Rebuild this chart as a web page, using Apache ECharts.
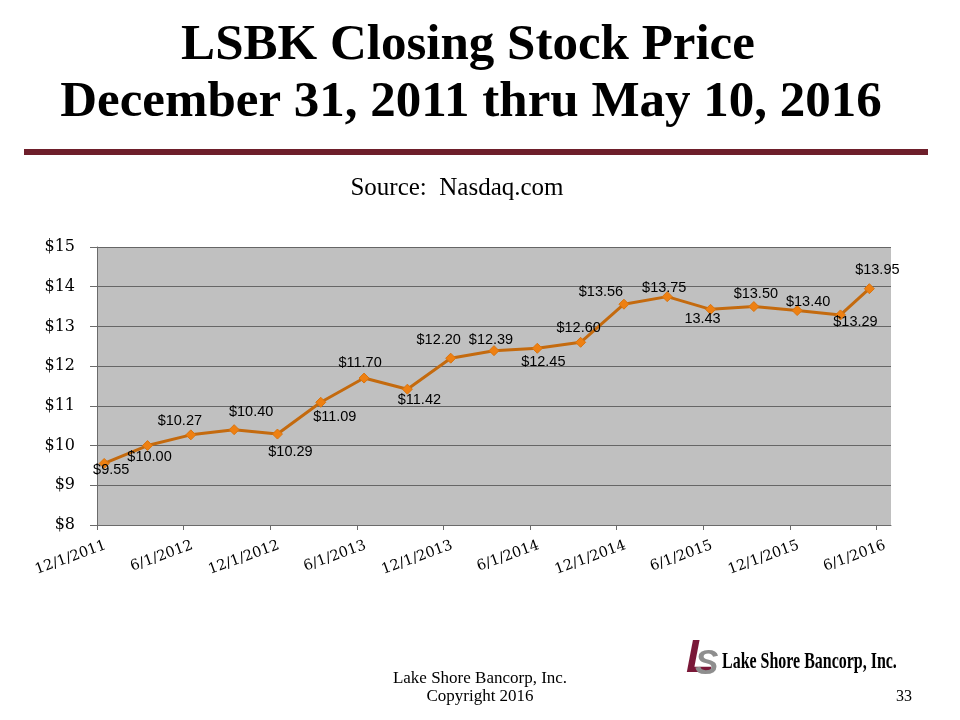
<!DOCTYPE html>
<html>
<head>
<meta charset="utf-8">
<script src="https://cdn.jsdelivr.net/npm/echarts@6/dist/echarts.min.js"></script>
<style>
html,body{margin:0;padding:0;background:#fff;}
#chart{width:960px;height:720px;}
</style>
</head>
<body>
<div id="chart"></div>
<script>
// Month index counted from Dec 2011 (0) on an Excel-style monthly date axis
var months = ['Dec 2011','Mar 2012','Jun 2012','Sep 2012','Dec 2012','Mar 2013','Jun 2013','Sep 2013',
  'Dec 2013','Mar 2014','Jun 2014','Sep 2014','Dec 2014','Mar 2015','Jun 2015','Sep 2015','Dec 2015','Mar 2016','May 2016'];
var monthIndex = [0,3,6,9,12,15,18,21,24,27,30,33,36,39,42,45,48,51,53];
var prices = [9.55,10.00,10.27,10.40,10.29,11.09,11.70,11.42,12.20,12.39,12.45,12.60,13.56,13.75,13.43,13.50,13.40,13.29,13.95];
var priceLabels = ['$9.55','$10.00','$10.27','$10.40','$10.29','$11.09','$11.70','$11.42','$12.20','$12.39','$12.45','$12.60','$13.56','$13.75','13.43','$13.50','$13.40','$13.29','$13.95'];
var tickLabels = ['12/1/2011','6/1/2012','12/1/2012','6/1/2013','12/1/2013','6/1/2014','12/1/2014','6/1/2015','12/1/2015','6/1/2016'];
var tickMonths = [0,6,12,18,24,30,36,42,48,54];
var yTicks = [8,9,10,11,12,13,14,15];

// label placement (style only)
var labelOffsets = [[7,7],[2,11],[-11,-14],[17,-18],[13,18],[14,15],[-4,-15],[12,11],[-12,-18],[-3,-11],
  [6,14],[-2,-14],[-23,-12],[-3,-9],[-8,10],[2,-13],[11,-9],[15,7],[8,-19]];

var labelShift = 0.6;
var seriesData = prices.map(function(p, i){
  return {
    value: [monthIndex[i] + 0.5, p],
    label: {offset: labelOffsets[i], formatter: priceLabels[i]}
  };
});

var chart = echarts.init(document.getElementById('chart'), null, {renderer:'canvas'});
var serif = '"DejaVu Serif", "Liberation Serif", serif';
chart.setOption({
  animation: false,
  backgroundColor: '#ffffff',
  grid: {left: 97, right: 69, top: 247, bottom: 195, show: true, backgroundColor: '#C0C0C0', borderWidth: 0},
  xAxis: {
    type: 'value', min: 0, max: 55,
    splitLine: {show: false},
    axisLine: {show: true, lineStyle: {color: '#6b6b6b', width: 1}},
    axisTick: {show: true, length: 5, lineStyle: {color: '#6b6b6b'}, customValues: tickMonths},
    axisLabel: {
      customValues: tickMonths.map(function(m){ return m + labelShift; }),
      formatter: function(v){ return tickLabels[Math.round((v - labelShift) / 6)]; },
      rotate: 20, margin: 20, color: '#000', fontFamily: serif, fontSize: 14.5
    }
  },
  yAxis: {
    type: 'value', min: yTicks[0], max: yTicks[yTicks.length-1], interval: 1,
    axisLine: {show: true, lineStyle: {color: '#6b6b6b', width: 1}},
    axisTick: {show: true, length: 7, lineStyle: {color: '#6b6b6b'}},
    splitLine: {show: true, lineStyle: {color: '#666666', width: 1}},
    axisLabel: {formatter: function(v){ return '$' + v; }, margin: 22, color: '#000', fontFamily: serif, fontSize: 16}
  },
  series: [{
    type: 'line',
    data: seriesData,
    symbol: 'diamond', symbolSize: 10,
    lineStyle: {color: '#C46A0E', width: 3},
    itemStyle: {color: '#EE8012', borderColor: '#D9740F', borderWidth: 1},
    label: {show: true, position: 'inside', color: '#000', fontFamily: '"Liberation Sans", Arial, sans-serif', fontSize: 14.5}
  }],
  graphic: [
    {type: 'text', x: 468, y: 46, style: {text: 'LSBK Closing Stock Price', font: 'bold 51px "Liberation Serif", serif', fill: '#000', textAlign: 'center', textVerticalAlign: 'middle'}},
    {type: 'text', x: 471, y: 103, style: {text: 'December 31, 2011 thru May 10, 2016', font: 'bold 51px "Liberation Serif", serif', fill: '#000', textAlign: 'center', textVerticalAlign: 'middle'}},
    {type: 'rect', shape: {x: 24, y: 149, width: 904, height: 6}, style: {fill: '#6E1F2B'}},
    {type: 'text', x: 457, y: 188, style: {text: 'Source:  Nasdaq.com', font: '25px "Liberation Serif", serif', fill: '#000', textAlign: 'center', textVerticalAlign: 'middle'}},
    {type: 'text', x: 480, y: 679, style: {text: 'Lake Shore Bancorp, Inc.', font: '17px "Liberation Serif", serif', fill: '#000', textAlign: 'center', textVerticalAlign: 'middle'}},
    {type: 'text', x: 480, y: 697, style: {text: 'Copyright 2016', font: '17px "Liberation Serif", serif', fill: '#000', textAlign: 'center', textVerticalAlign: 'middle'}},
    {type: 'text', x: 904, y: 697, style: {text: '33', font: '16px "Liberation Serif", serif', fill: '#000', textAlign: 'center', textVerticalAlign: 'middle'}},
    {type: 'text', x: 686, y: 636, style: {text: 'L', font: 'italic bold 46px "Liberation Sans", sans-serif', fill: '#7A1838'}},
    {type: 'text', x: 695, y: 647, style: {text: 'S', font: 'italic bold 35px "Liberation Sans", sans-serif', fill: '#8E8E8E'}},
    {type: 'text', x: 722, y: 650, scaleX: 0.665, style: {text: 'Lake Shore Bancorp, Inc.', font: 'bold 24px "Liberation Serif", serif', fill: '#000'}}
  ]
});
</script>
</body>
</html>
